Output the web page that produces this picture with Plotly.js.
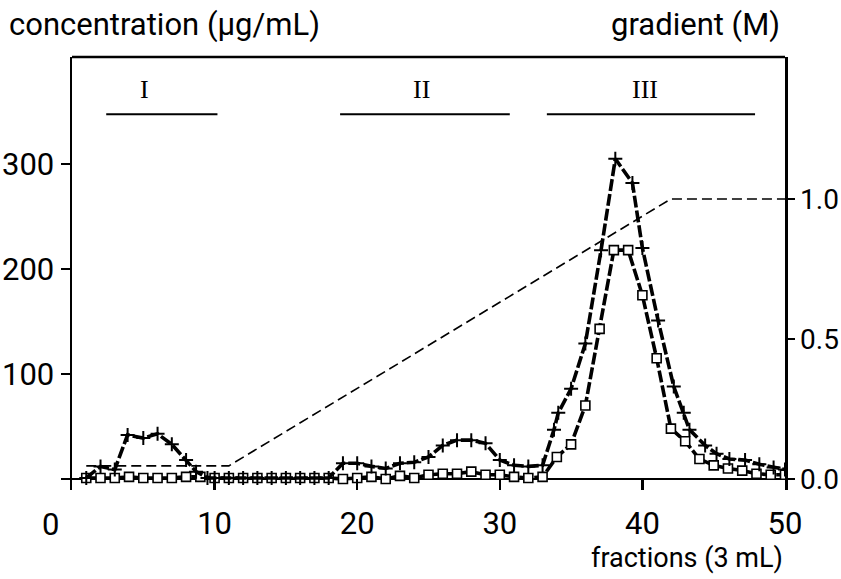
<!DOCTYPE html>
<html>
<head>
<meta charset="utf-8">
<script src="https://cdn.plot.ly/plotly-3.0.1.min.js"></script>
<style>html,body{margin:0;padding:0;background:#fff;}#chart{width:841px;height:579px;}</style>
</head>
<body>
<div id="chart"></div>
<script>
// Protein concentration (crosses)
const crossFractions = [1, 2, 3, 3.9, 5, 6, 7, 8, 8.7, 9.5, 10, 11, 12, 13, 14, 15, 16, 17, 18, 19, 20, 21, 22, 23, 24, 25, 26, 27, 28, 29, 30, 31, 32, 33, 33.8, 34.1, 35, 36, 37.1, 38.1, 39.3, 40, 41.1, 42.2, 42.9, 43.3, 44.4, 45.2, 46.1, 47.2, 48.2, 49.2, 50];
const crossValues = [1, 12, 9, 42, 39, 43, 33, 18, 7, 1, 1, 1, 1, 1, 1, 1, 1, 1, 1, 15, 15, 12, 10, 15, 16, 21, 32, 37, 37, 34, 18, 13, 12, 13, 47, 63, 86, 129, 218, 305, 282, 220, 151, 88, 63, 47, 32, 24, 19, 18, 14, 11, 9];

// Second concentration series (open squares)
const squareFractions = [1,2,3,4,5,6,7,8,9,10,11,12,13,14,15,16,17,18,19,20,21,22,23,24,25,26,27,28,29,30,31,32,33,34,35,36,37,38,39,40,41,42,43,44,45,46,47,48,49,50];
const squareValues = [1,1,1,2,1,1,1,2,2,1, 1,1,1,1,1,1,1,1,0,1, 2,0,3,1,4,5,5,7,4,4, 2,1,2,21,33,70,143,218,218,175, 115,48,36,19,13,10,8,5,4,4];

// Salt gradient (M)
const gradientFractions = [1, 11, 42, 50];
const gradientValues = [0.047, 0.047, 1.0, 1.0];

// Pooled regions
const regionNames = ["I", "II", "III"];
const regionStarts = [2.4, 18.8, 33.3];
const regionEnds = [10.2, 30.7, 47.9];
const regionLabelPos = [5.1, 24.5, 40.2];

const xTicks = [0, 10, 20, 30, 40, 50];
const xTickText = ["", "10", "20", "30", "40", "50"];
const yTicks = [0, 100, 200, 300];
const yTickText = ["", "100", "200", "300"];
const y2Ticks = [0, 0.5, 1.0];
const y2TickText = ["0.0", "0.5", "1.0"];

const sans = "Roboto, 'Liberation Sans', sans-serif";
const numFont = {family: sans, size: 31, color: "#000"};
const rightNumFont = {family: sans, size: 28, color: "#000"};
const titleFont = {family: sans, size: 31, color: "#000"};
const xTitleFont = {family: sans, size: 27, color: "#000"};
const romanFont = {family: "'Liberation Serif', 'DejaVu Serif', serif", size: 26, color: "#000"};

const traces = [
  {
    x: gradientFractions, y: gradientValues, yaxis: "y2", type: "scatter", mode: "lines",
    line: {color: "#000", width: 1.6, dash: "10px,5px"}, hoverinfo: "skip"
  },
  {
    x: squareFractions, y: squareValues, type: "scatter", mode: "lines+markers",
    line: {color: "#000", width: 3.6, dash: "12px,3px"},
    marker: {symbol: "square", size: 9, color: "#fff", line: {color: "#000", width: 1.6}}
  },
  {
    x: crossFractions, y: crossValues, type: "scatter", mode: "lines+markers",
    line: {color: "#000", width: 3.6, dash: "12px,3px"},
    marker: {symbol: "cross-thin-open", size: 10, color: "#000", line: {color: "#000", width: 2}}
  }
];

const shapes = [
  {type: "line", xref: "paper", yref: "paper", x0: 0, x1: 1, y0: 1, y1: 1, line: {color: "#000", width: 2.5}}
];
const annotations = [
  {text: "concentration (µg/mL)", xref: "paper", yref: "paper", x: -0.091, y: 1.076, xanchor: "left", yanchor: "middle", showarrow: false, font: titleFont},
  {text: "gradient (M)", xref: "paper", yref: "paper", x: 0.996, y: 1.076, xanchor: "right", yanchor: "middle", showarrow: false, font: titleFont},
  {text: "fractions (3 mL)", xref: "paper", yref: "paper", x: 1.0, y: -0.157, xanchor: "right", yanchor: "middle", showarrow: false, font: xTitleFont},
  {text: "0", xref: "x", yref: "paper", x: 0, xshift: -22, y: -0.079, xanchor: "center", yanchor: "middle", showarrow: false, font: numFont}
];
for (let i = 0; i < regionNames.length; i++) {
  shapes.push({type: "line", xref: "x", yref: "paper", x0: regionStarts[i], x1: regionEnds[i], y0: 0.868, y1: 0.868, line: {color: "#000", width: 2}});
  annotations.push({text: regionNames[i], xref: "x", yref: "paper", x: regionLabelPos[i], y: 0.924, xanchor: "center", yanchor: "middle", showarrow: false, font: romanFont});
}

const layout = {
  width: 841, height: 579,
  margin: {l: 72, r: 56, t: 57, b: 89},
  paper_bgcolor: "#fff", plot_bgcolor: "#fff",
  showlegend: false,
  xaxis: {
    range: [0, 50], tickvals: xTicks, ticktext: xTickText, ticks: "inside", ticklen: 11, tickwidth: 2.5,
    tickcolor: "#000", showline: false, showgrid: false, zeroline: false, tickfont: numFont, ticklabelstandoff: 12
  },
  yaxis: {
    range: [-10.5, 402], tickvals: yTicks, ticktext: yTickText, ticks: "outside", ticklen: 9, tickwidth: 2.5,
    tickcolor: "#000", showline: true, linewidth: 2.5, linecolor: "#000", showgrid: false,
    zeroline: true, zerolinecolor: "#000", zerolinewidth: 2.5, tickfont: numFont
  },
  yaxis2: {
    overlaying: "y", side: "right", range: [-0.0393, 1.507], tickvals: y2Ticks, ticktext: y2TickText,
    ticks: "outside", ticklen: 7, tickwidth: 2.5, tickcolor: "#000", showline: true, linewidth: 2.5, linecolor: "#000",
    showgrid: false, zeroline: false, tickfont: rightNumFont
  },
  shapes: shapes,
  annotations: annotations
};

Plotly.newPlot("chart", traces, layout, {staticPlot: true, displayModeBar: false});
</script>
</body>
</html>
